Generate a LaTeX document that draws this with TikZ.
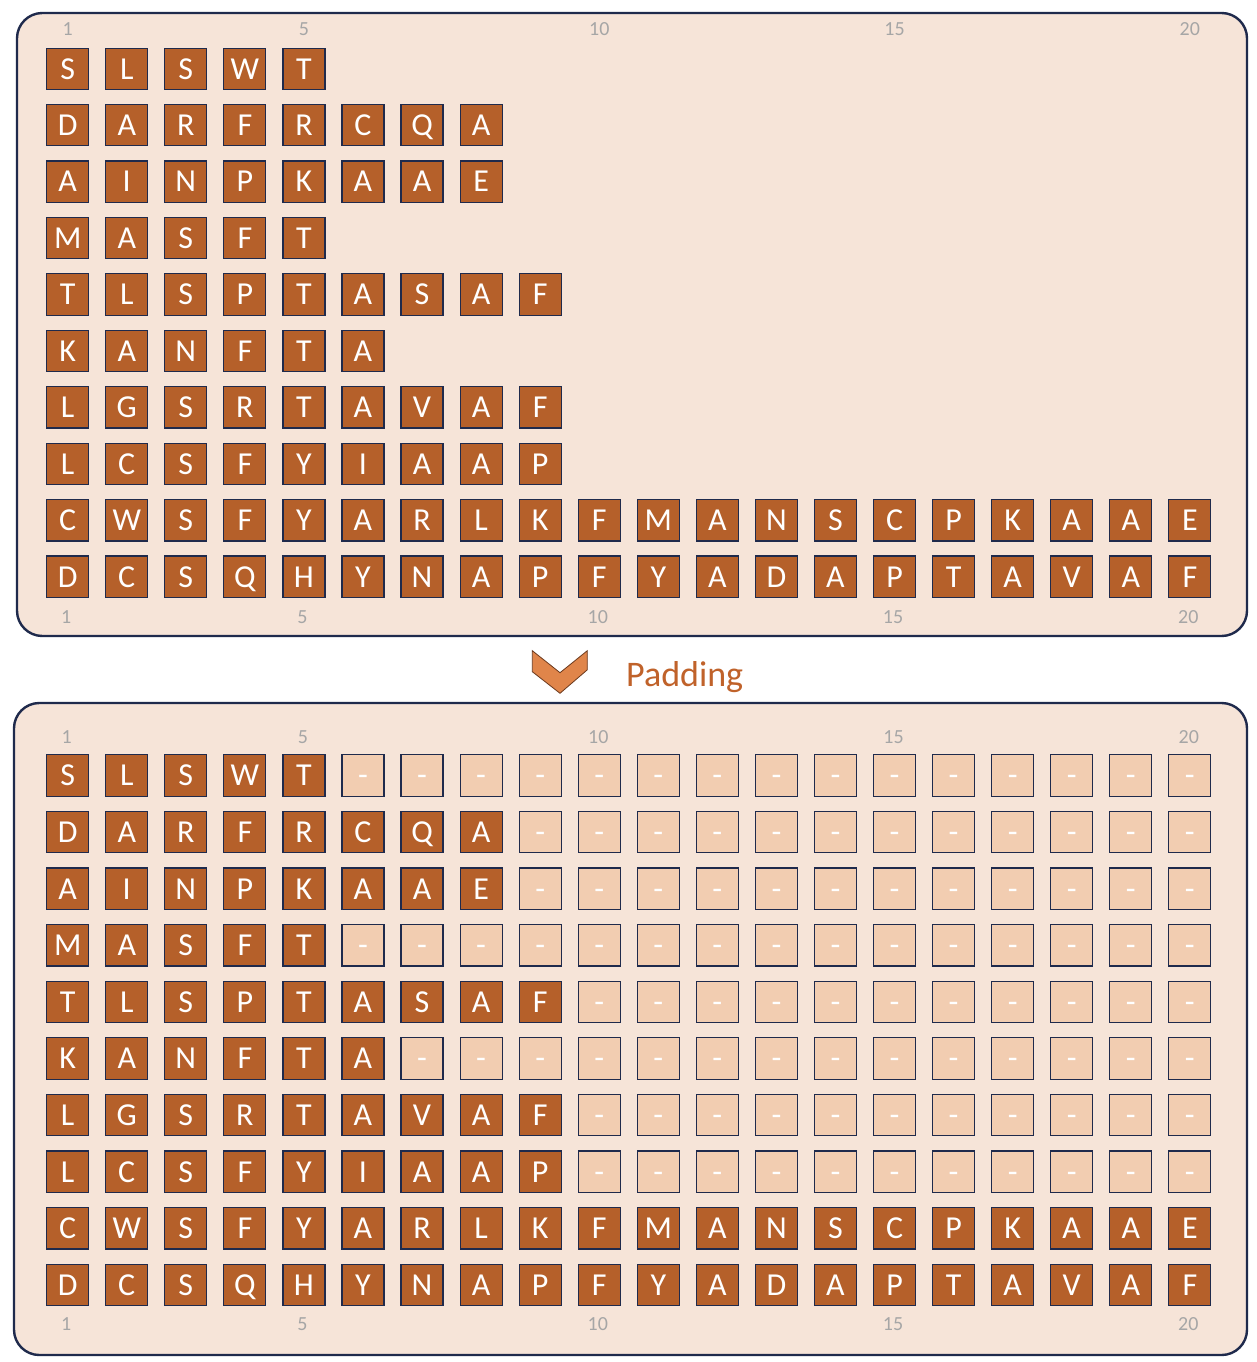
\documentclass[tikz,border=0pt]{standalone}
\usepackage{fontspec}
\setmainfont{Carlito}
\definecolor{panelfill}{HTML}{F6E4D8}
\definecolor{navy}{HTML}{1F2A4C}
\definecolor{cellfill}{HTML}{B5602A}
\definecolor{padfill}{HTML}{F2CDB1}
\definecolor{numgray}{HTML}{A6A6A6}
\definecolor{chevfill}{HTML}{E0854A}
\definecolor{chevline}{HTML}{6B3A1E}
\definecolor{padtext}{HTML}{C0622A}
\begin{document}
\begin{tikzpicture}[x=0.75pt,y=-0.75pt,
  panel/.style={draw=navy,line width=1.8pt,fill=panelfill,rounded corners=19pt},
  cell/.style={draw=navy,line width=0.9pt,fill=cellfill,minimum width=31.5pt,minimum height=31pt,
    inner sep=0pt,text=white,font=\fontsize{24}{24}\selectfont,text height=15.5pt,text depth=0pt},
  padcell/.style={cell,fill=padfill},
  num/.style={text=numgray,font=\fontsize{15}{15}\selectfont,inner sep=0pt},
  chevron/.style={draw=chevline,line width=0.6pt,fill=chevfill},
  padlabel/.style={text=padtext,font=\fontsize{27}{27}\selectfont,inner sep=0pt}]
\useasboundingbox (0,0) rectangle (1256,1362);
\fill[white] (0,0) rectangle (1256,1362);
% panels
\draw[panel] (17,13) rectangle (1247,636);
\draw[panel] (14,703) rectangle (1247,1355);
% column numbers
\foreach \n in {1,5,10,15,20}{
  \node[num] (tt\n) at ({67.7+(\n-1)*59.06},29) {\n};
  \node[num] (tb\n) at ({66.2+(\n-1)*59.06},617) {\n};
  \node[num] (bt\n) at ({66.7+(\n-1)*59.06},737) {\n};
  \node[num] (bb\n) at ({66.2+(\n-1)*59.06},1324) {\n};
}
% cells
\foreach \row [count=\r] in {{S,L,S,W,T},{D,A,R,F,R,C,Q,A},{A,I,N,P,K,A,A,E},{M,A,S,F,T},
  {T,L,S,P,T,A,S,A,F},{K,A,N,F,T,A},{L,G,S,R,T,A,V,A,F},{L,C,S,F,Y,I,A,A,P},
  {C,W,S,F,Y,A,R,L,K,F,M,A,N,S,C,P,K,A,A,E},{D,C,S,Q,H,Y,N,A,P,F,Y,A,D,A,P,T,A,V,A,F}}{
  \foreach \c [count=\k] in \row {
    \node[cell] (t-\r-\k) at ({67.7+(\k-1)*59.06},{68.8+(\r-1)*56.43}) {\c};
    \node[cell] (b-\r-\k) at ({67.7+(\k-1)*59.06},{775.5+(\r-1)*56.6}) {\c};
    \xdef\rowlen{\k}
  }
  \foreach \k in {1,...,20}{
    \ifnum\k>\rowlen\relax
      \node[padcell] (b-\r-\k) at ({67.7+(\k-1)*59.06},{775.5+(\r-1)*56.6}) {-};
    \fi
  }
}
% chevron and label
\draw[chevron] (532.3,650.7) -- (560,672.7) -- (587.3,650.7) -- (587.3,669.8)
  -- (560,693.3) -- (532.3,671.7) -- cycle;
\node[padlabel,anchor=base] (padding) at (684.7,686.7) {Padding};
\end{tikzpicture}
\end{document}
